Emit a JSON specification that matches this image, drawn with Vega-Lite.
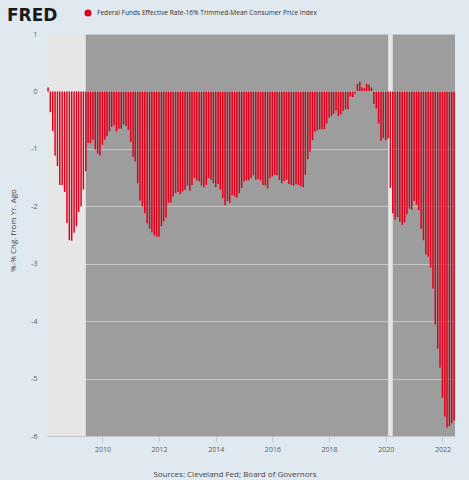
{
  "$schema": "https://vega.github.io/schema/vega-lite/v6.json",
  "width": 408,
  "height": 402,
  "autosize": "none",
  "padding": {"left": 47, "top": 34, "right": 14, "bottom": 44},
  "background": "#e1e9f0",
  "title": {
    "text": "FRED",
    "anchor": "start",
    "frame": "group",
    "dx": -40,
    "dy": 30,
    "offset": 14,
    "font": "DejaVu Sans",
    "fontSize": 17,
    "fontWeight": "bold",
    "color": "#1a1a1a"
  },
  "datasets": {
    "recessions": [
      {"start": "2007-12-01", "end": "2009-06-01"},
      {"start": "2020-02-01", "end": "2020-04-01"}
    ],
    "series": [
      {"date": "2008-02-01", "value": 0.07},
      {"date": "2008-03-01", "value": -0.36},
      {"date": "2008-04-01", "value": -0.69},
      {"date": "2008-05-01", "value": -1.12},
      {"date": "2008-06-01", "value": -1.30},
      {"date": "2008-07-01", "value": -1.63},
      {"date": "2008-08-01", "value": -1.63},
      {"date": "2008-09-01", "value": -1.75},
      {"date": "2008-10-01", "value": -2.29},
      {"date": "2008-11-01", "value": -2.59},
      {"date": "2008-12-01", "value": -2.60},
      {"date": "2009-01-01", "value": -2.46},
      {"date": "2009-02-01", "value": -2.35},
      {"date": "2009-03-01", "value": -2.10},
      {"date": "2009-04-01", "value": -2.00},
      {"date": "2009-05-01", "value": -1.71},
      {"date": "2009-06-01", "value": -1.39},
      {"date": "2009-07-01", "value": -0.90},
      {"date": "2009-08-01", "value": -0.90},
      {"date": "2009-09-01", "value": -0.84},
      {"date": "2009-10-01", "value": -1.01},
      {"date": "2009-11-01", "value": -1.08},
      {"date": "2009-12-01", "value": -1.11},
      {"date": "2010-01-01", "value": -0.93},
      {"date": "2010-02-01", "value": -0.84},
      {"date": "2010-03-01", "value": -0.78},
      {"date": "2010-04-01", "value": -0.70},
      {"date": "2010-05-01", "value": -0.62},
      {"date": "2010-06-01", "value": -0.59},
      {"date": "2010-07-01", "value": -0.70},
      {"date": "2010-08-01", "value": -0.65},
      {"date": "2010-09-01", "value": -0.65},
      {"date": "2010-10-01", "value": -0.57},
      {"date": "2010-11-01", "value": -0.60},
      {"date": "2010-12-01", "value": -0.67},
      {"date": "2011-01-01", "value": -0.88},
      {"date": "2011-02-01", "value": -1.14},
      {"date": "2011-03-01", "value": -1.22},
      {"date": "2011-04-01", "value": -1.60},
      {"date": "2011-05-01", "value": -1.90},
      {"date": "2011-06-01", "value": -2.00},
      {"date": "2011-07-01", "value": -2.12},
      {"date": "2011-08-01", "value": -2.30},
      {"date": "2011-09-01", "value": -2.39},
      {"date": "2011-10-01", "value": -2.45},
      {"date": "2011-11-01", "value": -2.51},
      {"date": "2011-12-01", "value": -2.53},
      {"date": "2012-01-01", "value": -2.53},
      {"date": "2012-02-01", "value": -2.35},
      {"date": "2012-03-01", "value": -2.26},
      {"date": "2012-04-01", "value": -2.20},
      {"date": "2012-05-01", "value": -1.94},
      {"date": "2012-06-01", "value": -1.94},
      {"date": "2012-07-01", "value": -1.83},
      {"date": "2012-08-01", "value": -1.77},
      {"date": "2012-09-01", "value": -1.75},
      {"date": "2012-10-01", "value": -1.79},
      {"date": "2012-11-01", "value": -1.74},
      {"date": "2012-12-01", "value": -1.71},
      {"date": "2013-01-01", "value": -1.64},
      {"date": "2013-02-01", "value": -1.73},
      {"date": "2013-03-01", "value": -1.63},
      {"date": "2013-04-01", "value": -1.51},
      {"date": "2013-05-01", "value": -1.55},
      {"date": "2013-06-01", "value": -1.57},
      {"date": "2013-07-01", "value": -1.64},
      {"date": "2013-08-01", "value": -1.67},
      {"date": "2013-09-01", "value": -1.63},
      {"date": "2013-10-01", "value": -1.51},
      {"date": "2013-11-01", "value": -1.54},
      {"date": "2013-12-01", "value": -1.60},
      {"date": "2014-01-01", "value": -1.67},
      {"date": "2014-02-01", "value": -1.61},
      {"date": "2014-03-01", "value": -1.71},
      {"date": "2014-04-01", "value": -1.86},
      {"date": "2014-05-01", "value": -1.98},
      {"date": "2014-06-01", "value": -1.91},
      {"date": "2014-07-01", "value": -1.94},
      {"date": "2014-08-01", "value": -1.81},
      {"date": "2014-09-01", "value": -1.83},
      {"date": "2014-10-01", "value": -1.85},
      {"date": "2014-11-01", "value": -1.77},
      {"date": "2014-12-01", "value": -1.68},
      {"date": "2015-01-01", "value": -1.57},
      {"date": "2015-02-01", "value": -1.55},
      {"date": "2015-03-01", "value": -1.55},
      {"date": "2015-04-01", "value": -1.51},
      {"date": "2015-05-01", "value": -1.46},
      {"date": "2015-06-01", "value": -1.54},
      {"date": "2015-07-01", "value": -1.53},
      {"date": "2015-08-01", "value": -1.55},
      {"date": "2015-09-01", "value": -1.63},
      {"date": "2015-10-01", "value": -1.64},
      {"date": "2015-11-01", "value": -1.69},
      {"date": "2015-12-01", "value": -1.51},
      {"date": "2016-01-01", "value": -1.48},
      {"date": "2016-02-01", "value": -1.45},
      {"date": "2016-03-01", "value": -1.46},
      {"date": "2016-04-01", "value": -1.54},
      {"date": "2016-05-01", "value": -1.60},
      {"date": "2016-06-01", "value": -1.56},
      {"date": "2016-07-01", "value": -1.54},
      {"date": "2016-08-01", "value": -1.61},
      {"date": "2016-09-01", "value": -1.63},
      {"date": "2016-10-01", "value": -1.64},
      {"date": "2016-11-01", "value": -1.61},
      {"date": "2016-12-01", "value": -1.63},
      {"date": "2017-01-01", "value": -1.65},
      {"date": "2017-02-01", "value": -1.67},
      {"date": "2017-03-01", "value": -1.45},
      {"date": "2017-04-01", "value": -1.18},
      {"date": "2017-05-01", "value": -1.05},
      {"date": "2017-06-01", "value": -0.85},
      {"date": "2017-07-01", "value": -0.70},
      {"date": "2017-08-01", "value": -0.68},
      {"date": "2017-09-01", "value": -0.66},
      {"date": "2017-10-01", "value": -0.66},
      {"date": "2017-11-01", "value": -0.66},
      {"date": "2017-12-01", "value": -0.56},
      {"date": "2018-01-01", "value": -0.46},
      {"date": "2018-02-01", "value": -0.43},
      {"date": "2018-03-01", "value": -0.39},
      {"date": "2018-04-01", "value": -0.33},
      {"date": "2018-05-01", "value": -0.43},
      {"date": "2018-06-01", "value": -0.40},
      {"date": "2018-07-01", "value": -0.34},
      {"date": "2018-08-01", "value": -0.31},
      {"date": "2018-09-01", "value": -0.31},
      {"date": "2018-10-01", "value": -0.09},
      {"date": "2018-11-01", "value": -0.10},
      {"date": "2018-12-01", "value": -0.04},
      {"date": "2019-01-01", "value": 0.13},
      {"date": "2019-02-01", "value": 0.17},
      {"date": "2019-03-01", "value": 0.07},
      {"date": "2019-04-01", "value": 0.06},
      {"date": "2019-05-01", "value": 0.13},
      {"date": "2019-06-01", "value": 0.12},
      {"date": "2019-07-01", "value": 0.07},
      {"date": "2019-08-01", "value": -0.22},
      {"date": "2019-09-01", "value": -0.30},
      {"date": "2019-10-01", "value": -0.56},
      {"date": "2019-11-01", "value": -0.86},
      {"date": "2019-12-01", "value": -0.81},
      {"date": "2020-01-01", "value": -0.85},
      {"date": "2020-02-01", "value": -0.82},
      {"date": "2020-03-01", "value": -1.68},
      {"date": "2020-04-01", "value": -2.12},
      {"date": "2020-05-01", "value": -2.23},
      {"date": "2020-06-01", "value": -2.19},
      {"date": "2020-07-01", "value": -2.27},
      {"date": "2020-08-01", "value": -2.32},
      {"date": "2020-09-01", "value": -2.28},
      {"date": "2020-10-01", "value": -2.14},
      {"date": "2020-11-01", "value": -2.04},
      {"date": "2020-12-01", "value": -2.06},
      {"date": "2021-01-01", "value": -1.91},
      {"date": "2021-02-01", "value": -1.97},
      {"date": "2021-03-01", "value": -2.07},
      {"date": "2021-04-01", "value": -2.39},
      {"date": "2021-05-01", "value": -2.59},
      {"date": "2021-06-01", "value": -2.84},
      {"date": "2021-07-01", "value": -2.88},
      {"date": "2021-08-01", "value": -3.07},
      {"date": "2021-09-01", "value": -3.43},
      {"date": "2021-10-01", "value": -4.06},
      {"date": "2021-11-01", "value": -4.48},
      {"date": "2021-12-01", "value": -4.81},
      {"date": "2022-01-01", "value": -5.34},
      {"date": "2022-02-01", "value": -5.66},
      {"date": "2022-03-01", "value": -5.85},
      {"date": "2022-04-01", "value": -5.83},
      {"date": "2022-05-01", "value": -5.78},
      {"date": "2022-06-01", "value": -5.73}
    ]
  },
  "layer": [
    {
      "data": {"name": "recessions"},
      "mark": {"type": "rect", "color": "#e6e6e6", "clip": true},
      "encoding": {
        "x": {
          "field": "start",
          "type": "temporal",
          "scale": {
            "type": "utc",
            "nice": false,
            "padding": 0,
            "domain": [
              {"year": 2008, "month": 1, "date": 18, "utc": true},
              {"year": 2022, "month": 6, "date": 12, "utc": true}
            ]
          },
          "axis": {
            "title": "Sources: Cleveland Fed; Board of Governors",
            "format": "%Y",
            "tickCount": {"interval": "year", "step": 2}
          }
        },
        "x2": {"field": "end"}
      }
    },
    {
      "data": {"name": "series"},
      "mark": {"type": "bar", "size": 1.5, "clip": true},
      "encoding": {
        "x": {
          "field": "date",
          "type": "temporal",
          "scale": {
            "type": "utc",
            "nice": false,
            "padding": 0,
            "domain": [
              {"year": 2008, "month": 1, "date": 18, "utc": true},
              {"year": 2022, "month": 6, "date": 12, "utc": true}
            ]
          },
          "axis": {
            "title": "Sources: Cleveland Fed; Board of Governors",
            "format": "%Y",
            "tickCount": {"interval": "year", "step": 2}
          }
        },
        "y": {
          "field": "value",
          "type": "quantitative",
          "scale": {"domain": [-6, 1], "nice": false},
          "axis": {
            "title": "%-% Chg. from Yr. Ago",
            "values": [1, 0, -1, -2, -3, -4, -5, -6],
            "labelExpr": "'' + datum.value"
          }
        },
        "color": {
          "datum": "Federal Funds Effective Rate-16% Trimmed-Mean Consumer Price Index",
          "type": "nominal",
          "scale": {"range": ["#e0001b"]},
          "legend": {
            "orient": "none",
            "legendX": 37,
            "legendY": -25,
            "title": null,
            "padding": 0,
            "symbolType": "circle",
            "symbolSize": 50,
            "symbolStrokeWidth": 0,
            "labelFont": "Open Sans",
            "labelFontSize": 6.6,
            "labelLimit": 400,
            "labelColor": "#333333",
            "labelOffset": 5
          }
        }
      }
    },
    {
      "mark": {"type": "rule", "color": "#222222", "strokeWidth": 1.5},
      "encoding": {"y": {"datum": 0}}
    }
  ],
  "config": {
    "view": {"fill": "#9d9d9d", "stroke": null},
    "axis": {
      "labelFont": "Open Sans",
      "labelFontSize": 7,
      "labelColor": "#5a5a5a",
      "titleFont": "Open Sans",
      "titleFontSize": 8,
      "titleFontWeight": "normal",
      "titleColor": "#444444",
      "labelFlush": false
    },
    "axisX": {
      "grid": false,
      "domain": false,
      "tickColor": "#bccbdb",
      "tickSize": 6,
      "labelPadding": 3,
      "titleX": 187.5,
      "titleY": 38,
      "titleAlign": "center",
      "titleBaseline": "middle"
    },
    "axisY": {
      "grid": true,
      "gridColor": "#c6c6c6",
      "gridWidth": 1,
      "domain": false,
      "ticks": false,
      "labelPadding": 10,
      "titleX": -34,
      "titleY": 196,
      "titleAngle": 270,
      "titleAlign": "center",
      "titleBaseline": "middle"
    }
  }
}
